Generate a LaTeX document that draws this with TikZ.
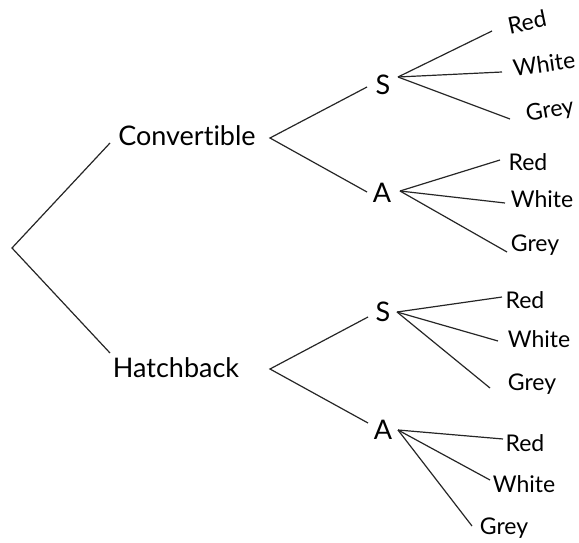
\documentclass[tikz,border=0pt]{standalone}
\usepackage{fontspec}
\setmainfont{Lato}[Ligatures=NoCommon]
\usepackage{tikz}
\usetikzlibrary{positioning}
\tikzset{
  main/.style={inner sep=0pt, font=\fontsize{27}{30}\selectfont},
  leaf/.style={inner sep=0pt, font=\fontsize{23}{26}\selectfont},
  branch/.style={line width=1.2pt, black!85}
}

\begin{document}
\begin{tikzpicture}[x=1pt, y=-1pt]
  \useasboundingbox (0,0) rectangle (579,543);
  % Car type
  \coordinate (root) at (12,248);
  \node[main] (conv)  at (187,136) {Convertible};
  \node[main] (hatch) at (176,368) {Hatchback};
  % Gearbox
  \node[main] (s1) at (383,85)  {S};
  \node[main] (a1) at (382,193) {A};
  \node[main] (s2) at (383,312) {S};
  \node[main] (a2) at (383,430) {A};
  % Colours
  \node[leaf, rotate=12] (s1r) at (527,22)  {Red};
  \node[leaf, rotate=8]  (s1w) at (544,64)  {White};
  \node[leaf, rotate=10] (s1g) at (550,111) {Grey};
  \node[leaf] (a1r) at (528,162) {Red};
  \node[leaf] (a1w) at (542,199) {White};
  \node[leaf] (a1g) at (535,245) {Grey};
  \node[leaf] (s2r) at (525,300) {Red};
  \node[leaf] (s2w) at (539,339) {White};
  \node[leaf] (s2g) at (532,384) {Grey};
  \node[leaf] (a2r) at (525,443) {Red};
  \node[leaf] (a2w) at (524,484) {White};
  \node[leaf] (a2g) at (504,528) {Grey};
  % Branches
  \draw[branch] ([shift={(-77,7)}]conv.center) -- (root) -- ([shift={(-66,-15)}]hatch.center);
  \draw[branch] ([shift={(-16,2)}]s1.center) -- ([shift={(83,2)}]conv.center) -- ([shift={(-15,-1)}]a1.center);
  \draw[branch] ([shift={(-15,5)}]s2.center) -- ([shift={(94,1)}]hatch.center) -- ([shift={(-15,-7)}]a2.center);
  \draw[branch] ([shift={(15,-8)}]s1.center) -- ([shift={(-35,9)}]s1r.center);
  \draw[branch] ([shift={(15,-8)}]s1.center) -- ([shift={(-42,8)}]s1w.center);
  \draw[branch] ([shift={(15,-8)}]s1.center) -- ([shift={(-40,8)}]s1g.center);
  \draw[branch] ([shift={(18,-2)}]a1.center) -- ([shift={(-28,-2)}]a1r.center);
  \draw[branch] ([shift={(18,-2)}]a1.center) -- ([shift={(-37,4)}]a1w.center);
  \draw[branch] ([shift={(18,-2)}]a1.center) -- ([shift={(-28,7)}]a1g.center);
  \draw[branch] ([shift={(14,0)}]s2.center) -- ([shift={(-23,-3)}]s2r.center);
  \draw[branch] ([shift={(14,0)}]s2.center) -- ([shift={(-41,2)}]s2w.center);
  \draw[branch] ([shift={(14,0)}]s2.center) -- ([shift={(-42,4)}]s2g.center);
  \draw[branch] ([shift={(15,0)}]a2.center) -- ([shift={(-22,-4)}]a2r.center);
  \draw[branch] ([shift={(15,0)}]a2.center) -- ([shift={(-34,-4)}]a2w.center);
  \draw[branch] ([shift={(15,0)}]a2.center) -- ([shift={(-32,-2)}]a2g.center);
\end{tikzpicture}
\end{document}
